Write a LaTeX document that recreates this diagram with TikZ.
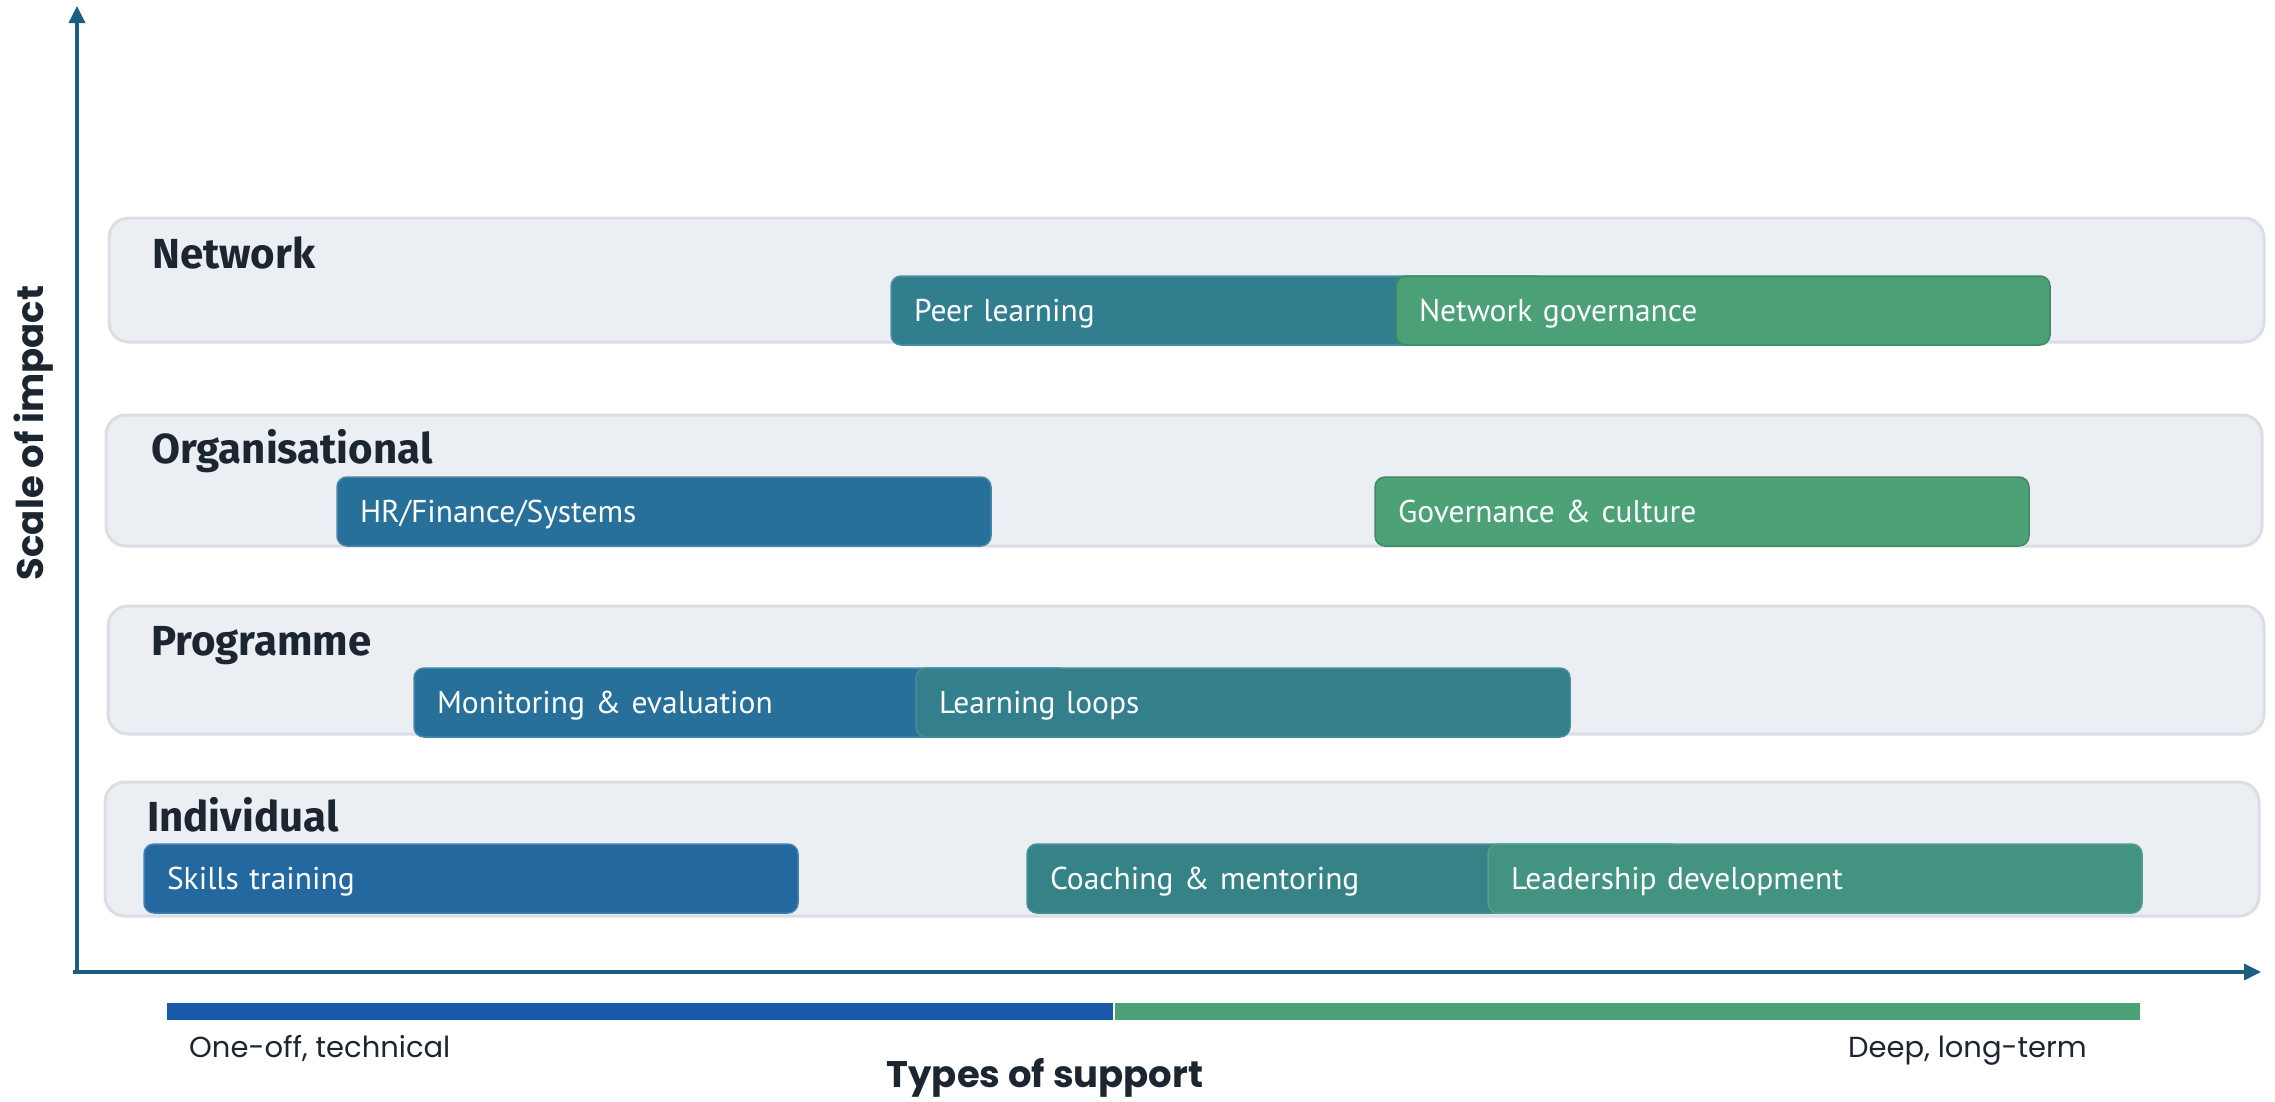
\documentclass[tikz,border=0pt]{standalone}
\usepackage{fontspec}
\setmainfont{PT Sans}
\newfontfamily\labfont{Fira Sans}
\newfontfamily\axfont{Poppins}
\usetikzlibrary{arrows.meta}
\definecolor{axiscol}{HTML}{1B5F80}
\definecolor{bandfill}{HTML}{EBEEF3}
\definecolor{bandline}{HTML}{DADFE6}
\definecolor{labcol}{HTML}{1C2631}
\definecolor{cSkills}{HTML}{2369A0}
\definecolor{cHR}{HTML}{26709A}
\definecolor{cMon}{HTML}{27709A}
\definecolor{cPeer}{HTML}{317E8E}
\definecolor{cLoop}{HTML}{33808C}
\definecolor{cCoach}{HTML}{358387}
\definecolor{cLead}{HTML}{42937F}
\definecolor{cNG}{HTML}{4BA077}
\definecolor{cGC}{HTML}{4CA177}
\definecolor{barblue}{HTML}{175BA8}
\definecolor{bargreen}{HTML}{4CA176}
\begin{document}
\begin{tikzpicture}[x=1pt,y=-1pt,
  band/.style={draw=bandline, line width=3pt, fill=bandfill, rounded corners=20pt,
    inner sep=0pt, outer sep=0pt, anchor=north west},
  bandlabel/.style={anchor=base west, inner sep=0pt, text=labcol,
    font=\labfont\bfseries\fontsize{42}{42}\selectfont},
  sbox/.style={rounded corners=10pt, minimum height=69pt, text width=608pt,
    inner xsep=23pt, inner ysep=0pt, text height=21.5pt, text depth=0pt,
    align=left, anchor=north west, outer sep=0pt, text=white, line width=1.5pt,
    font=\fontsize{31.5}{31.5}\selectfont},
  axis/.style={draw=axiscol, line width=3.5pt, -{Triangle[length=17pt,width=16pt]}},
  axtitle/.style={inner sep=0pt, text=labcol, font=\axfont\bfseries\fontsize{37}{37}\selectfont},
  endlabel/.style={inner sep=0pt, text=labcol, font=\axfont\fontsize{29}{29}\selectfont}
]
\useasboundingbox (0,0) rectangle (2275,1101);

% bands
\node[band, minimum width=2155pt, minimum height=124pt] (bnet) at (109,218) {};
\node[band, minimum width=2156pt, minimum height=131pt] (borg) at (106,415) {};
\node[band, minimum width=2156pt, minimum height=128pt] (bprog) at (108,606) {};
\node[band, minimum width=2154pt, minimum height=134pt] (bind) at (105,782) {};

% band labels
\node[bandlabel] (lnet) at (152,268) {Network};
\node[bandlabel] (lorg) at (151,463) {Organisational};
\node[bandlabel] (lprog) at (151,655) {Programme};
\node[bandlabel] (lind) at (147,831) {Individual};

% support boxes
\node[sbox, fill=cPeer, draw=cPeer!85!white] (peer) at (891,276) {Peer learning};
\node[sbox, fill=cNG, draw=cNG!85!black] (ng) at (1396,276) {Network governance};
\node[sbox, fill=cHR, draw=cHR!85!white] (hr) at (337,477) {HR/Finance/Systems};
\node[sbox, fill=cGC, draw=cGC!85!black] (gc) at (1375,477) {Governance \& culture};
\node[sbox, fill=cMon, draw=cMon!85!white] (mon) at (414,668) {Monitoring \& evaluation};
\node[sbox, fill=cLoop, draw=cLoop!90!white] (loop) at (916,668) {Learning loops};
\node[sbox, fill=cSkills, draw=cSkills!85!white] (skills) at (144,844) {Skills training};
\node[sbox, fill=cCoach, draw=cCoach!90!white] (coach) at (1027,844) {Coaching \& mentoring};
\node[sbox, fill=cLead, draw=cLead!90!white] (lead) at (1488,844) {Leadership development};

% axes
\coordinate (O) at (77,972);
\coordinate (ytop) at (77,6);
\coordinate (xO) at (73,972);
\coordinate (xend) at (2261,972);
\draw[axis] (O) -- (ytop);
\draw[axis] (xO) -- (xend);

% support-type bar
\fill[barblue] (167,1003) rectangle (1114,1020);
\fill[bargreen] (1114,1003) rectangle (2140,1020);
\draw[white, line width=1.5pt] (1114,1003) -- (1114,1020);

% axis labels
\node[endlabel, anchor=base west] (oneoff) at (189,1057) {One-off, technical};
\node[endlabel, anchor=base east] (deep) at (2087,1057) {Deep, long-term};
\node[axtitle, anchor=base] (xtitle) at (1045,1087) {Types of support};
\node[axtitle, anchor=base, rotate=90] (ytitle) at (43,433) {Scale of impact};
\end{tikzpicture}
\end{document}
